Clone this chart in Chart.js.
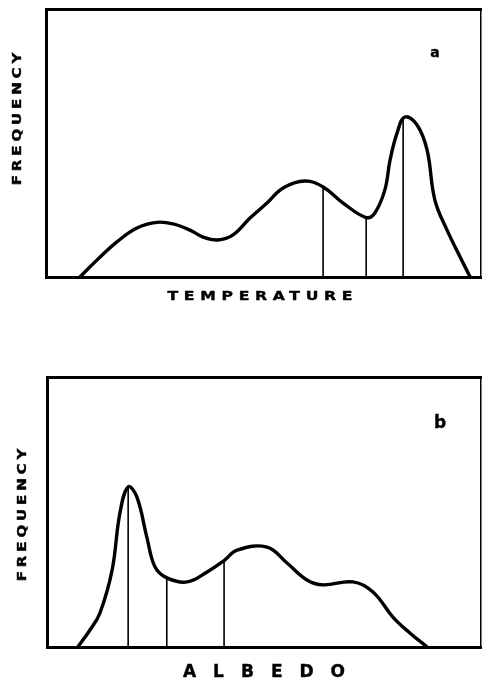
<!DOCTYPE html>
<html>
<head>
<meta charset="utf-8">
<script src="https://cdn.jsdelivr.net/npm/chart.js@4/dist/chart.umd.min.js"></script>
<style>
  html, body { margin: 0; padding: 0; background: #fff; }
  #wrap { position: relative; width: 482px; height: 680px; overflow: hidden; background: #fff; }
  canvas { position: absolute; left: 0; }
  .lbl { position: absolute; font-family: "DejaVu Sans", sans-serif; font-weight: bold; color: #000; white-space: nowrap; line-height: 1; transform: translate(-50%, -50%); -webkit-text-stroke: 0.4px #000; }
  .wide { transform: translate(-50%, -50%) scaleX(1.3); }
  .rot { transform: translate(-50%, -50%) rotate(-90deg) scaleX(1.3); }
</style>
</head>
<body>
<div id="wrap">
  <canvas id="cA" width="482" height="340" style="top:0px"></canvas>
  <canvas id="cB" width="482" height="340" style="top:340px"></canvas>
  <div class="lbl rot" style="left:17.5px; top:119px; font-size:11.5px; letter-spacing:3px; padding-left:3px;">FREQUENCY</div>
  <div class="lbl wide" style="left:260px; top:296px; font-size:12px; letter-spacing:4.4px; padding-left:4.4px;">TEMPERATURE</div>
  <div class="lbl" style="left:435px; top:52px; font-size:14px;">a</div>
  <div class="lbl rot" style="left:23px; top:515px; font-size:11.5px; letter-spacing:3px; padding-left:3px;">FREQUENCY</div>
  <div class="lbl" style="left:264px; top:671px; font-size:17px; letter-spacing:17px; padding-left:17px;">ALBEDO</div>
  <div class="lbl" style="left:440px; top:422px; font-size:17px;">b</div>
</div>
<script>
// Panel a: frequency vs temperature (arbitrary units, 0-100)
const tempX = [7.8, 11.7, 16.3, 20.9, 25.5, 29.2, 33.1, 36.1, 39.5, 43.0, 46.9, 50.8, 54.5, 59.5, 63.7, 68.3, 73.6, 75.6, 77.9, 79.1, 80.7, 82.5, 85.3, 87.6, 89.4, 92.2, 95.2, 97.5];
const tempY = [0, 6.3, 13.1, 18.3, 20.4, 19.8, 17.5, 14.9, 13.8, 15.7, 22.0, 27.6, 33.2, 35.8, 33.6, 27.6, 22.2, 23.9, 32.5, 43.7, 53.7, 59.7, 56.7, 47.4, 28.7, 17.5, 7.5, 0];
const tempMarkX = [63.7, 73.6, 82.1];
const tempMarkY = [33.6, 22.2, 59.5];

// Panel b: frequency vs albedo (arbitrary units, 0-100)
const albedoX = [7.1, 9.9, 12.2, 15.0, 16.8, 18.7, 20.7, 23.0, 24.9, 27.6, 32.3, 36.9, 40.8, 43.8, 50.7, 55.3, 59.9, 63.6, 70.5, 75.1, 79.7, 83.6, 87.6];
const albedoY = [0, 6.3, 12.6, 28.5, 49.6, 59.3, 55.6, 40.7, 29.6, 25.6, 24.1, 27.8, 32.0, 35.9, 37.0, 31.1, 24.8, 23.0, 24.1, 20.4, 11.1, 5.2, 0];
const albedoMarkX = [18.7, 27.6, 40.8];
const albedoMarkY = [59.3, 25.6, 32.0];

function axis(pos, axisId, w, size) {
  const o = {
    type: 'linear', axis: axisId, position: pos, min: 0, max: 100,
    ticks: { display: false },
    grid: { display: false, drawTicks: false },
    border: { display: true, width: w, color: '#000' }
  };
  if (pos === 'top' || pos === 'bottom') o.afterFit = s => { s.height = size; };
  else o.afterFit = s => { s.width = size; };
  return o;
}

function makePanel(id, xs, ys, mx, my, frame) {
  const datasets = [{
    data: xs.map((x, i) => ({ x: x, y: ys[i] })),
    showLine: true, borderColor: '#000', borderWidth: 3.4, pointRadius: 0,
    tension: 0.4, fill: false, borderCapStyle: 'round', borderJoinStyle: 'round'
  }];
  mx.forEach((x, i) => {
    datasets.push({
      data: [{ x: x, y: 0 }, { x: x, y: my[i] }],
      showLine: true, borderColor: '#000', borderWidth: 1.6, pointRadius: 0, fill: false, tension: 0
    });
  });
  new Chart(document.getElementById(id), {
    type: 'scatter',
    data: { datasets: datasets },
    options: {
      responsive: false, animation: false, devicePixelRatio: 1,
      layout: { padding: 0 },
      plugins: { legend: { display: false }, tooltip: { enabled: false }, title: { display: false } },
      scales: {
        x: axis('bottom', 'x', 3, frame.bottom),
        x2: axis('top', 'x', 3, frame.top),
        y: axis('left', 'y', 3, frame.left),
        y2: axis('right', 'y', 1.5, frame.right)
      }
    }
  });
}

makePanel('cA', tempX, tempY, tempMarkX, tempMarkY, { top: 9, bottom: 63, left: 46, right: 1 });
makePanel('cB', albedoX, albedoY, albedoMarkX, albedoMarkY, { top: 37, bottom: 33, left: 47, right: 1 });
</script>
</body>
</html>
